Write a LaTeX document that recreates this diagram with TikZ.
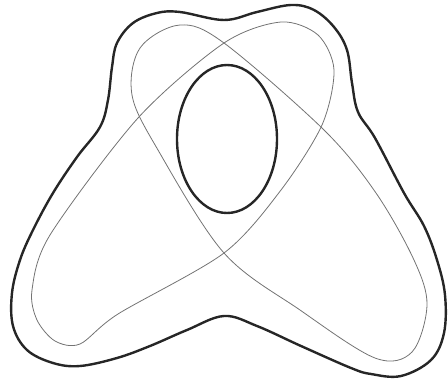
\documentclass[tikz,border=0pt]{standalone}
\begin{document}
\begin{tikzpicture}[x=1pt,y=-1pt,
  thickline/.style={line width=2.4pt,black!85,line join=round},
  thinline/.style={line width=0.8pt,black!55}]
\useasboundingbox (0,0) rectangle (448,386);
% outer blob
\draw[thickline] plot[smooth cycle,tension=0.6] coordinates {
 (180,12) (224,20) (257,12) (291,5) (314,10) (334,27) (347,50) (352,83) (358,112)
 (375,138) (404,193) (424,226) (437,260) (445,295) (444,333) (431,360)
 (401,376) (371,374) (351,368) (301,346) (257,326) (224,316) (187,330) (150,346)
 (117,358) (80,366) (53,363) (27,350) (13,326) (12,293) (20,260) (33,230) (53,193)
 (77,157) (100,127) (108,100) (112,67) (117,43) (133,23) (157,13)};
% left-leaning loop
\draw[thinline] plot[smooth cycle,tension=0.5] coordinates {
 (224,43) (281,22) (318,35) (334,70) (322,125) (281,190) (224,253)
 (118,314) (80,344) (55,341) (37,320) (32,290) (50,235) (138,118)};
% right-leaning loop
\draw[thinline] plot[smooth cycle,tension=0.55] coordinates {
 (224,43) (324,130) (376,193) (414,260) (427,305) (412,352) (375,358)
 (300,310) (224,253) (158,150) (132,95) (140,48) (180,25)};
% inner ellipse
\draw[thickline] (227,139) ellipse [x radius=50,y radius=74];
\end{tikzpicture}
\end{document}
